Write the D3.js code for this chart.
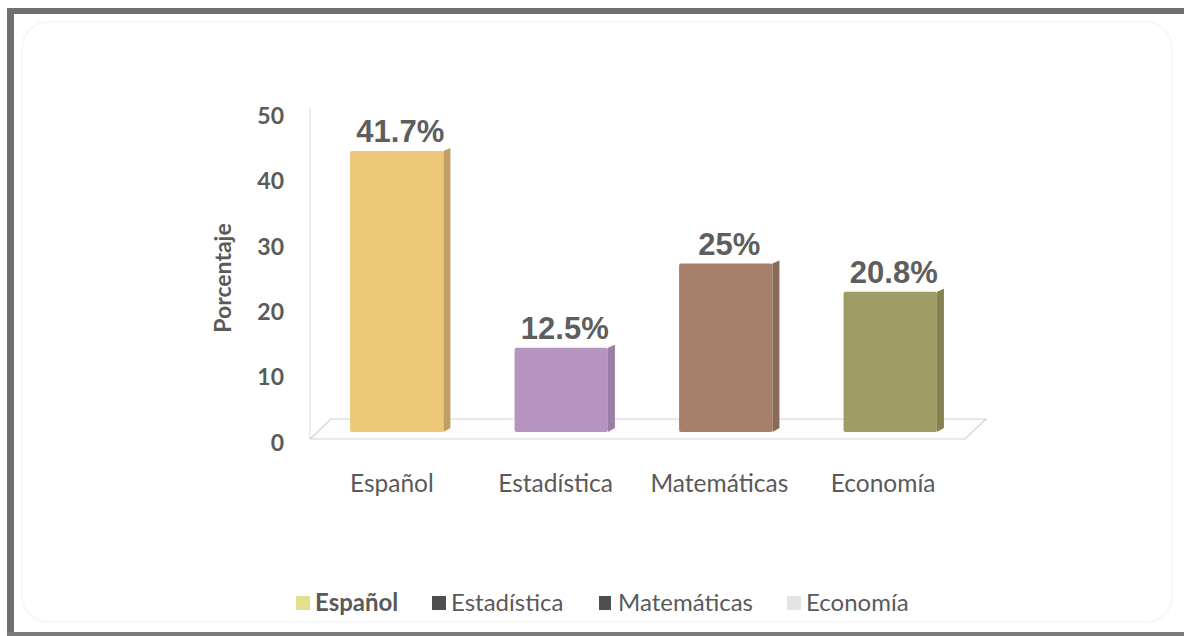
<!DOCTYPE html>
<html>
<head>
<meta charset="utf-8">
<script src="https://cdn.jsdelivr.net/npm/d3@7"></script>
<style>
  html, body { margin: 0; padding: 0; background: #ffffff; }
  svg { display: block; }
</style>
</head>
<body>
<svg id="chart" width="1184" height="636"></svg>
<script>
// Subjects and their share of responses (%)
const categories = ["Español", "Estadística", "Matemáticas", "Economía"];
const values = [41.7, 12.5, 25, 20.8];
const valueLabels = ["41.7%", "12.5%", "25%", "20.8%"];
const yTicks = [0, 10, 20, 30, 40, 50];
const yTitle = "Porcentaje";

// Bar faces: front colour and darker side colour
const frontColors = ["#ecc777", "#b595c0", "#a6806b", "#9d9c65"];
const sideColors  = ["#c19e66", "#9a7ea6", "#8a6a57", "#838250"];
// Legend swatches
const legendColors = ["#e2e08c", "#4f4f4f", "#4f4f4f", "#e4e4e4"];

const svg = d3.select("#chart");
const textGray = "#5a5a5a";

// Outer frame (top, left and bottom bands)
svg.append("rect").attr("x", 7).attr("y", 8).attr("width", 1177).attr("height", 6).attr("fill", "#707070");
svg.append("rect").attr("x", 7).attr("y", 8).attr("width", 7).attr("height", 628).attr("fill", "#707070");
svg.append("rect").attr("x", 7).attr("y", 632).attr("width", 1177).attr("height", 4).attr("fill", "#7a7a7a");

// Faint chart area outline
svg.append("rect").attr("x", 22).attr("y", 22).attr("width", 1150).attr("height", 600)
  .attr("rx", 26).attr("fill", "none").attr("stroke", "#f7f7f7").attr("stroke-width", 2);

// Scales: axis labels sit on the back wall, bars on the front plane
const yAxisScale = d3.scaleLinear().domain([0, 50]).range([443, 116]);
const yBar = d3.scaleLinear().domain([0, 50]).range([432, 95]);
const xBar = d3.scaleBand().domain(categories).range([318, 976]).paddingInner(0.39).paddingOuter(0.195);
const xFront = d3.scaleBand().domain(categories).range([310, 965]);

// 3D floor and wall edge
const floor = [[310, 439], [331, 419], [986, 419], [965, 439]];
svg.append("path")
  .attr("d", d3.line()(floor) + "Z")
  .attr("fill", "#fdfdfd").attr("stroke", "#d4d4d4").attr("stroke-width", 1.2);
svg.append("line").attr("x1", 310).attr("x2", 310).attr("y1", 108).attr("y2", 439)
  .attr("stroke", "#e2e2e2").attr("stroke-width", 1.2);

// Y axis tick labels
const yAxis = d3.axisLeft(yAxisScale).tickValues(yTicks).tickSize(0).tickPadding(0);
const gAxis = svg.append("g").attr("transform", "translate(284,0)").call(yAxis);
gAxis.select(".domain").remove();
gAxis.selectAll("text")
  .attr("font-family", "Lato, 'Open Sans', sans-serif")
  .attr("font-size", 23).attr("font-weight", 700).attr("fill", textGray);

// Axis title
svg.append("text")
  .attr("transform", "translate(231,278) rotate(-90)")
  .attr("text-anchor", "middle")
  .attr("font-family", "Lato, 'Open Sans', sans-serif")
  .attr("font-size", 23).attr("font-weight", 700).attr("fill", textGray)
  .text(yTitle);

// Bars
const side = 7;
const bars = svg.append("g").selectAll("g").data(categories).join("g");
bars.append("rect")
  .attr("x", d => xBar(d))
  .attr("y", (d, i) => yBar(values[i]))
  .attr("width", xBar.bandwidth() - side)
  .attr("height", (d, i) => yBar(0) - yBar(values[i]))
  .attr("rx", 2)
  .attr("fill", (d, i) => frontColors[i]);
bars.append("path")
  .attr("d", (d, i) => {
    const x0 = xBar(d) + xBar.bandwidth() - side, y0 = yBar(values[i]), y1 = yBar(0);
    return `M${x0},${y0} L${x0 + side},${y0 - 3} L${x0 + side},${y1 - 4} L${x0},${y1} Z`;
  })
  .attr("fill", (d, i) => sideColors[i]);

// Value labels
svg.append("g").selectAll("text").data(categories).join("text")
  .attr("x", d => xBar(d) + xBar.bandwidth() / 2)
  .attr("y", (d, i) => yBar(values[i]) - 9)
  .attr("text-anchor", "middle")
  .attr("font-family", "'Liberation Sans', Arial, sans-serif")
  .attr("font-size", 31).attr("font-weight", 700).attr("fill", "#5e5e5e")
  .text((d, i) => valueLabels[i]);

// Category labels along the front edge of the floor
svg.append("g").selectAll("text").data(categories).join("text")
  .attr("x", d => xFront(d) + xFront.bandwidth() / 2)
  .attr("y", 492)
  .attr("text-anchor", "middle")
  .attr("font-family", "Lato, 'Open Sans', sans-serif")
  .attr("font-size", 24.5).attr("fill", textGray)
  .text(d => d);

// Legend
const legendX = [296, 432, 599, 787];
const legend = svg.append("g").selectAll("g").data(categories).join("g")
  .attr("transform", (d, i) => `translate(${legendX[i]},611)`);
legend.append("rect")
  .attr("x", 0).attr("y", -15).attr("width", (d, i) => i === 2 ? 12 : 14).attr("height", 14)
  .attr("fill", (d, i) => legendColors[i]);
legend.append("text")
  .attr("x", 19).attr("y", 0)
  .attr("font-family", "Lato, 'Open Sans', sans-serif")
  .attr("font-size", 24)
  .attr("font-weight", (d, i) => i === 0 ? 700 : 400)
  .attr("fill", textGray)
  .text(d => d);
</script>
</body>
</html>
